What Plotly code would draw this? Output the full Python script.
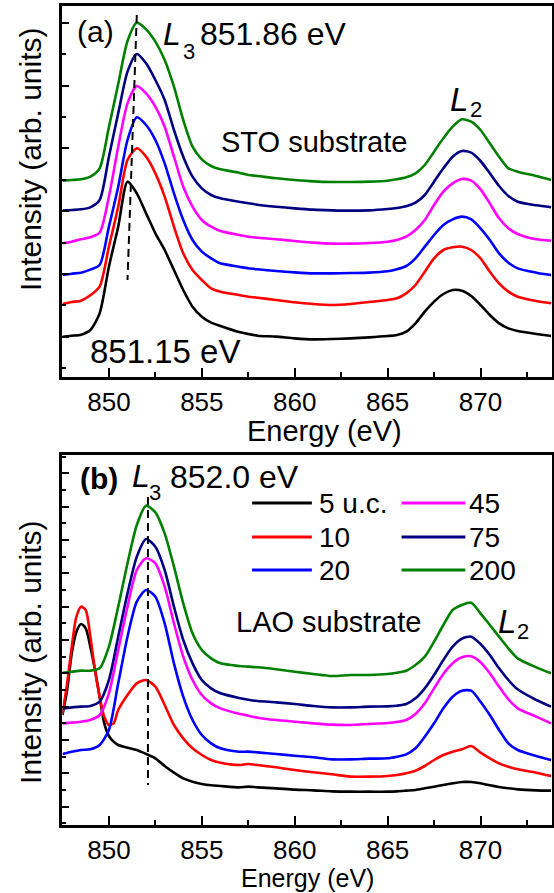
import plotly.graph_objects as go

# ---------------- DATA ----------------
# Panel (a): STO substrate, Ni L-edge XAS (arb. units)
energy_a = [847.5, 848, 848.5, 849, 849.5, 850, 850.5, 851, 851.5, 852, 852.5, 853, 853.5, 854,
            854.5, 855, 855.5, 856, 857, 857.5, 858, 859, 860, 861, 862, 863, 864, 865, 865.5,
            866, 866.5, 867, 867.5, 868, 868.5, 869, 869.5, 870, 870.5, 871, 871.5, 872, 873, 873.8]
sto_5 = [121, 124, 127, 141, 191, 331, 451, 586, 551, 491, 431, 381, 321, 261, 211, 181, 163, 153, 135,
         129, 124, 121, 116, 113, 114, 116, 119, 123, 126, 136, 161, 196, 226, 249, 261, 259, 243, 216,
         186, 161, 146, 138, 129, 123]
sto_10 = [219, 225, 229, 245, 271, 391, 511, 651, 686, 661, 611, 541, 451, 371, 321, 291, 266, 256, 246,
          241, 238, 231, 224, 219, 216, 219, 225, 231, 236, 251, 276, 316, 356, 381, 389, 391, 381, 356,
          316, 281, 256, 241, 228, 221]
sto_20 = [306, 310, 313, 322, 336, 451, 571, 711, 779, 756, 711, 641, 551, 471, 411, 376, 356, 341, 331,
          326, 323, 318, 314, 311, 311, 312, 313, 317, 323, 333, 356, 391, 426, 456, 473, 481, 473, 446,
          411, 371, 343, 326, 313, 306]
sto_45 = [401, 406, 413, 419, 433, 541, 691, 821, 873, 851, 811, 751, 661, 571, 511, 471, 451, 438, 426,
          421, 418, 413, 408, 403, 400, 400, 402, 406, 411, 421, 441, 471, 516, 556, 581, 594, 589, 563,
          521, 476, 446, 429, 413, 409]
sto_75 = [499, 501, 503, 509, 531, 661, 791, 916, 969, 941, 891, 831, 741, 661, 601, 566, 546, 536, 526,
          521, 517, 511, 506, 502, 500, 499, 500, 504, 507, 512, 523, 546, 586, 626, 661, 678, 673, 648,
          611, 573, 543, 526, 515, 509]
sto_200 = [589, 591, 593, 601, 626, 750, 879, 1008, 1063, 1043, 1006, 951, 871, 771, 691, 653, 633, 623,
           613, 606, 603, 596, 591, 587, 585, 585, 586, 589, 593, 599, 611, 636, 676, 716, 751, 773, 766,
           741, 701, 661, 626, 616, 603, 591]

# Panel (b): LAO substrate
energy_b = energy_a
energy_b_fine = [847.5, 847.75, 848, 848.25, 848.5, 848.75, 849, 849.25, 849.5, 849.75, 850, 850.25, 850.5,
                 851, 851.5, 852, 852.5, 853, 853.5, 854, 854.5, 855, 855.5, 856, 857,
                 857.5, 858, 859, 860, 861, 862, 863, 864, 865, 865.5, 866, 866.5, 867, 867.5, 868,
                 868.5, 869, 869.5, 870, 870.5, 871, 871.5, 872, 873, 873.8]
lao_5 = [330, 405, 515, 580, 603, 590, 535, 465, 385, 305, 267, 250, 240,
         232, 225, 213, 200, 177, 157, 140, 130, 123, 119, 117, 113,
         115, 113, 110, 106, 104, 101, 100, 100, 100, 101, 103, 105, 110, 115, 120, 125, 129, 129, 125,
         119, 114, 110, 107, 104, 103]
lao_10 = [335, 425, 535, 625, 655, 645, 565, 465, 385, 325, 300, 305, 345,
          390, 425, 435, 415, 360, 300, 260, 230, 210, 195, 187, 180,
          183, 180, 173, 165, 158, 152, 145, 145, 147, 150, 155, 163, 177, 195, 210, 220, 227, 237, 217,
          200, 185, 175, 167, 157, 147]
lao_20 = [213, 220, 225, 227, 240, 285, 425, 565, 670, 705, 685, 605, 485, 385, 315, 270, 245, 230, 220,
          220, 218, 213, 208, 203, 197, 197, 199, 200, 205, 212, 230, 265, 305, 350, 385, 403, 403, 370,
          330, 285, 245, 225, 207, 195]
lao_45 = [305, 307, 310, 315, 330, 395, 525, 655, 765, 800, 785, 715, 605, 505, 435, 390, 365, 350, 334,
          328, 322, 315, 310, 305, 301, 300, 303, 306, 309, 315, 333, 365, 410, 453, 485, 503, 506, 488,
          455, 415, 377, 350, 325, 305]
lao_75 = [350, 353, 355, 357, 370, 435, 565, 695, 805, 858, 835, 765, 655, 555, 485, 435, 410, 395, 381,
          376, 372, 368, 363, 357, 353, 353, 355, 356, 358, 363, 380, 410, 450, 495, 535, 559, 565, 543,
          510, 470, 435, 407, 375, 355]
lao_200 = [457, 460, 463, 463, 470, 535, 655, 785, 900, 958, 938, 875, 775, 665, 575, 525, 500, 485, 477,
           475, 473, 467, 460, 453, 447, 450, 450, 453, 457, 463, 480, 505, 550, 600, 645, 660, 667, 635,
           600, 565, 530, 500, 473, 455]

# L3 peak guide lines (dashed)
guide_a_energy = [851.5, 851.0]
guide_a_intensity = [1086, 291]
guide_b_energy = [852.1, 852.1]
guide_b_intensity = [984, 120]

thickness_labels = ["5 u.c.", "10", "20", "45", "75", "200"]
colors = ["#000000", "#ff0000", "#0000ff", "#ff00ff", "#000080", "#008000"]

# ---------------- FIGURE ----------------
W, H = 554, 893
FONT = "Liberation Sans, Arial, sans-serif"


def X(px):
    return px / W


def Y(py):
    return 1 - py / H


fig = go.Figure()

series_a = [(energy_a, sto_5), (energy_a, sto_10), (energy_a, sto_20),
            (energy_a, sto_45), (energy_a, sto_75), (energy_a, sto_200)]
series_b = [(energy_b_fine, lao_5), (energy_b_fine, lao_10), (energy_b, lao_20),
            (energy_b, lao_45), (energy_b, lao_75), (energy_b, lao_200)]

for (xs, ys), name, c in zip(series_a, thickness_labels, colors):
    fig.add_trace(go.Scatter(x=xs, y=ys, mode="lines", name=name, showlegend=False,
                             line=dict(color=c, width=2.6, shape="spline", smoothing=0.7),
                             xaxis="x", yaxis="y"))
for (xs, ys), name, c in zip(series_b, thickness_labels, colors):
    fig.add_trace(go.Scatter(x=xs, y=ys, mode="lines", name=name, showlegend=False,
                             line=dict(color=c, width=2.6, shape="spline", smoothing=0.7),
                             xaxis="x2", yaxis="y2"))

fig.add_trace(go.Scatter(x=guide_a_energy, y=guide_a_intensity, mode="lines", showlegend=False,
                         line=dict(color="black", width=2, dash="8px,5px"), xaxis="x", yaxis="y"))
fig.add_trace(go.Scatter(x=guide_b_energy, y=guide_b_intensity, mode="lines", showlegend=False,
                         line=dict(color="black", width=2, dash="8px,5px"), xaxis="x2", yaxis="y2"))

xdom = [X(62.7), X(553.5)]
common_x = dict(domain=xdom, range=[847.5, 873.82], showline=True, linewidth=2.5, linecolor="black",
                mirror=True, ticks="inside", ticklen=9, tickwidth=2, tickcolor="black",
                tick0=850, dtick=5, showgrid=False, zeroline=False,
                minor=dict(ticks="inside", ticklen=5, tickwidth=2, tickcolor="black", dtick=2.5, tick0=850),
                tickfont=dict(family=FONT, size=26, color="black"))
common_y = dict(showline=True, linewidth=2.5, linecolor="black", mirror=True, ticks="inside",
                ticklen=7, tickwidth=2, tickcolor="black", showticklabels=False,
                showgrid=False, zeroline=False)

fig.update_layout(
    width=W, height=H, margin=dict(l=0, r=0, t=0, b=0),
    paper_bgcolor="white", plot_bgcolor="white",
    font=dict(family=FONT, color="black"),
    xaxis=dict(**common_x, anchor="y"),
    yaxis=dict(**common_y, anchor="x", domain=[Y(376.7), Y(6)], range=[0.9, 1113],
               tick0=120.3, dtick=188.5,
               minor=dict(ticks="inside", ticklen=4, tickwidth=2, tickcolor="black", tick0=26.1, dtick=94.25)),
    xaxis2=dict(**common_x, anchor="y2"),
    yaxis2=dict(**common_y, anchor="x2", domain=[Y(825), Y(455)], range=[0, 1110],
                tick0=55, dtick=100,
                minor=dict(ticks="inside", ticklen=4, tickwidth=2, tickcolor="black", tick0=5, dtick=50)),
)

ann = []


def add_text(text, px, py, size, xanchor="center", yanchor="middle", angle=0, style="normal",
             weight="normal"):
    ann.append(dict(text=text, x=X(px), y=Y(py), xref="paper", yref="paper", showarrow=False,
                    xanchor=xanchor, yanchor=yanchor, textangle=angle, borderpad=0,
                    font=dict(family=FONT, size=size, color="black", style=style, weight=weight)))


add_text("Intensity (arb. units)", 30, 159, 30, angle=-90)
add_text("Intensity (arb. units)", 30, 652, 30, angle=-90)
add_text("Energy (eV)", 326, 431, 29)
add_text("Energy (eV)", 308.5, 878, 25)

# panel (a) labels
add_text("(a)", 96, 31, 30)
add_text("L", 163, 34, 32, xanchor="left", style="italic")
add_text("3", 183, 51, 22, xanchor="left")
add_text("851.86 eV", 200, 34, 32, xanchor="left")
add_text("851.15 eV", 166, 351, 33)
add_text("STO substrate", 315, 142, 29)
add_text("L", 451, 100, 33, xanchor="left", style="italic")
add_text("2", 471, 110, 22, xanchor="left")

# panel (b) labels
add_text("(b)", 99, 478, 30, weight="bold")
add_text("L", 131, 476, 32, xanchor="left", style="italic")
add_text("3", 149, 492, 22, xanchor="left")
add_text("852.0 eV", 170, 477, 32, xanchor="left")
add_text("LAO substrate", 330, 622, 29)
add_text("L", 499, 621, 33, xanchor="left", style="italic")
add_text("2", 518, 631, 22, xanchor="left")

# legend (drawn manually to reproduce long line samples)
legend_rows = [503, 537, 570]
legend_cols = [(253, 313, 319), (403, 467, 470)]
shapes = []
for i, (name, c) in enumerate(zip(thickness_labels, colors)):
    col = legend_cols[i // 3]
    row = legend_rows[i % 3]
    shapes.append(dict(type="line", xref="paper", yref="paper", x0=X(col[0]), x1=X(col[1]),
                       y0=Y(row), y1=Y(row), line=dict(color=c, width=3)))
    add_text(name, col[2], row, 28, xanchor="left")

fig.update_layout(annotations=ann, shapes=shapes)
fig.write_html("out.html", config={"displayModeBar": False},
               post_script="document.body.style.margin='0';document.body.style.overflow='hidden';")
